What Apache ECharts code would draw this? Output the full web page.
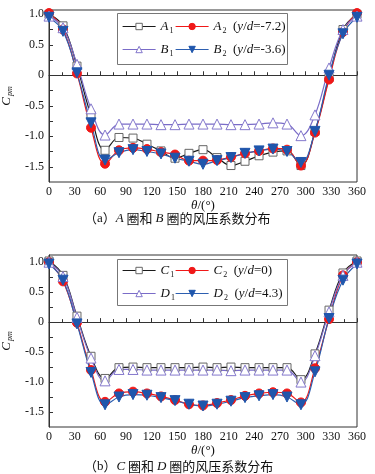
<!DOCTYPE html>
<html>
<head>
<meta charset="utf-8">
<script src="https://cdn.jsdelivr.net/npm/echarts@6/dist/echarts.min.js"></script>
<style>
  html, body { margin: 0; padding: 0; background: #fff; }
  #chart { width: 375px; height: 474px; }
</style>
</head>
<body>
<div id="chart"></div>
<script>
// polar angle of the measuring points (deg)
const theta = [0, 16.4, 32.7, 49.1, 65.5, 81.8, 98.2, 114.5, 130.9, 147.3, 163.6, 180,
  196.4, 212.7, 229.1, 245.5, 261.8, 278.2, 294.5, 310.9, 327.3, 343.6, 360]

// (a) rings A and B
const A1 = [1.0, 0.81, 0.15, -0.66, -1.23, -1.02, -1.03, -1.13, -1.24, -1.36, -1.28, -1.22,
  -1.35, -1.48, -1.41, -1.32, -1.26, -1.24, -1.48, -0.92, -0.04, 0.75, 1.0]
const A2 = [1.02, 0.75, 0.03, -0.86, -1.45, -1.23, -1.19, -1.21, -1.26, -1.30, -1.40, -1.40,
  -1.39, -1.34, -1.28, -1.24, -1.20, -1.22, -1.48, -0.94, -0.07, 0.71, 1.02]
const B1 = [0.97, 0.78, 0.18, -0.55, -0.98, -0.80, -0.80, -0.80, -0.81, -0.81, -0.80, -0.80,
  -0.80, -0.81, -0.81, -0.80, -0.78, -0.80, -0.99, -0.65, 0.12, 0.75, 0.97]
const B2 = [0.95, 0.72, 0.04, -0.78, -1.39, -1.27, -1.22, -1.25, -1.29, -1.36, -1.41, -1.46,
  -1.40, -1.35, -1.28, -1.24, -1.21, -1.25, -1.43, -0.92, 0.0, 0.68, 0.95]

// (b) rings C and D
const C1 = [1.02, 0.78, 0.10, -0.57, -0.94, -0.76, -0.75, -0.76, -0.76, -0.76, -0.76, -0.75,
  -0.76, -0.75, -0.76, -0.76, -0.76, -0.76, -0.96, -0.53, 0.20, 0.82, 1.02]
const C2 = [1.0, 0.68, -0.01, -0.80, -1.33, -1.19, -1.16, -1.19, -1.24, -1.30, -1.37, -1.39,
  -1.35, -1.30, -1.23, -1.19, -1.17, -1.19, -1.34, -0.77, 0.05, 0.78, 1.0]
const D1 = [1.0, 0.76, 0.08, -0.60, -0.98, -0.79, -0.79, -0.80, -0.80, -0.80, -0.80, -0.80,
  -0.80, -0.81, -0.80, -0.80, -0.80, -0.80, -1.0, -0.56, 0.17, 0.78, 1.0]
const D2 = [0.97, 0.70, -0.03, -0.84, -1.38, -1.25, -1.21, -1.22, -1.26, -1.31, -1.37, -1.40,
  -1.37, -1.32, -1.26, -1.23, -1.21, -1.25, -1.38, -0.83, 0.06, 0.70, 0.97]

const yLabels = [-1.5, -1.0, -0.5, 0, 0.5, 1.0]
const yTicks = [-1.5, -1.25, -1.0, -0.75, -0.5, -0.25, 0, 0.25, 0.5, 0.75, 1.0]

const serif = "'Liberation Serif', 'Noto Sans CJK SC', serif"

const legendText = {
  A1: '{i|A}{s|1}',
  A2: '{i|A}{s|2}{n|  (}{i|y}{n|/}{i|d}{n|=-7.2)}',
  B1: '{i|B}{s|1}',
  B2: '{i|B}{s|2}{n|  (}{i|y}{n|/}{i|d}{n|=-3.6)}',
  C1: '{i|C}{s|1}',
  C2: '{i|C}{s|2}{n|  (}{i|y}{n|/}{i|d}{n|=0)}',
  D1: '{i|D}{s|1}',
  D2: '{i|D}{s|2}{n|  (}{i|y}{n|/}{i|d}{n|=4.3)}'
}

const richText = {
  i: { fontFamily: serif, fontStyle: 'italic', fontWeight: 'normal', fontSize: 13, color: '#111' },
  n: { fontFamily: serif, fontWeight: 'normal', fontSize: 13, color: '#111' },
  s: { fontFamily: serif, fontWeight: 'normal', fontSize: 8, color: '#111', padding: [8, 0, 0, 1] },
  c: { fontFamily: "'Noto Sans CJK SC', serif", fontWeight: 'normal', fontSize: 13, color: '#111' }
}

// line / marker look of the four kinds of curve
const looks = {
  black: { line: '#1a1a1a', symbol: 'rect', size: 8, fill: '#fff', stroke: '#666', rotate: 0 },
  red: { line: '#f01818', symbol: 'circle', size: 9, fill: '#f01818', stroke: '#f01818', rotate: 0 },
  purple: { line: '#7a6cc8', symbol: 'triangle', size: 10, fill: '#fff', stroke: '#8478cc', rotate: 0 },
  blue: { line: '#2d5fb0', symbol: 'triangle', size: 10, fill: '#1f56ac', stroke: '#1f56ac', rotate: 180 }
}

function makeSeries (name, vals, look, idx) {
  const lk = looks[look]
  return {
    name: name,
    type: 'line',
    xAxisIndex: idx,
    yAxisIndex: idx,
    smooth: 0.4,
    data: theta.map((t, i) => [t, vals[i]]),
    symbol: lk.symbol,
    symbolSize: lk.size,
    symbolRotate: lk.rotate,
    showAllSymbol: true,
    lineStyle: { color: lk.line, width: 1.2 },
    itemStyle: { color: lk.fill, borderColor: lk.stroke, borderWidth: 1 },
    emphasis: { disabled: true },
    animation: false
  }
}

function makeLegend (name, left, top) {
  return {
    data: [name],
    left: left,
    top: top,
    z: 20,
    itemWidth: 33,
    itemHeight: 8,
    itemGap: 0,
    padding: 0,
    selectedMode: false,
    lineStyle: { width: 1.2 },
    itemStyle: { borderWidth: 1 },
    formatter: n => legendText[n],
    textStyle: { fontFamily: serif, fontSize: 13, color: '#111', rich: richText }
  }
}

function makeX (idx) {
  return {
    type: 'value',
    gridIndex: idx,
    min: 0,
    max: 360,
    interval: 30,
    name: '{i|θ}{n|/(°)}',
    nameLocation: 'middle',
    nameGap: 14,
    nameTextStyle: { rich: richText },
    axisLine: { lineStyle: { color: '#333' } },
    axisTick: { inside: true, length: 4, lineStyle: { color: '#333' } },
    minorTick: { show: true, splitNumber: 2, length: 3, lineStyle: { color: '#333' } },
    axisLabel: { fontFamily: serif, fontSize: 12, color: '#111', margin: 4 },
    splitLine: { show: false }
  }
}

function makeY (idx, max) {
  return {
    type: 'value',
    gridIndex: idx,
    min: -1.75,
    max: max,
    name: '{i|C}{p|pm}',
    nameLocation: 'middle',
    nameRotate: 90,
    nameGap: 27,
    nameTextStyle: {
      rich: {
        i: { fontFamily: serif, fontStyle: 'italic', fontSize: 13, color: '#111' },
        p: { fontFamily: serif, fontStyle: 'italic', fontSize: 8, color: '#111', padding: [8, 0, 0, 1] }
      }
    },
    axisLine: { lineStyle: { color: '#333' } },
    axisTick: { inside: true, length: 4, customValues: yTicks, lineStyle: { color: '#333' } },
    axisLabel: {
      fontFamily: serif,
      fontSize: 12,
      color: '#111',
      margin: 5,
      customValues: yLabels,
      formatter: v => (v === 0 ? '0' : v.toFixed(1))
    },
    splitLine: { show: false }
  }
}

const chart = echarts.init(document.getElementById('chart'))
chart.setOption({
  backgroundColor: '#fff',
  animation: false,
  grid: [
    { left: 49, top: 10, width: 308, height: 172, show: true, borderColor: '#333', borderWidth: 1, outerBoundsMode: 'none', containLabel: false },
    { left: 49, top: 255, width: 308, height: 172, show: true, borderColor: '#333', borderWidth: 1, outerBoundsMode: 'none', containLabel: false }
  ],
  xAxis: [makeX(0), makeX(1)],
  yAxis: [makeY(0, 1.07), makeY(1, 1.12)],
  title: [
    {
      text: '{c|（}{n|a}{c|）}{i|A}{c| 圈和 }{i|B}{c| 圈的风压系数分布}',
      left: 84,
      top: 212,
      padding: 0,
      textStyle: { fontWeight: 'normal', rich: richText }
    },
    {
      text: '{c|（}{n|b}{c|）}{i|C}{c| 圈和 }{i|D}{c| 圈的风压系数分布}',
      left: 84,
      top: 460,
      padding: 0,
      textStyle: { fontWeight: 'normal', rich: richText }
    }
  ],
  graphic: [
    { type: 'rect', shape: { x: 117.5, y: 13.5, width: 170, height: 51 }, style: { fill: '#fff', stroke: '#777', lineWidth: 1 }, z: 1 },
    { type: 'rect', shape: { x: 117.5, y: 259.5, width: 170, height: 46 }, style: { fill: '#fff', stroke: '#777', lineWidth: 1 }, z: 1 }
  ],
  legend: [
    makeLegend('A1', 122, 20),
    makeLegend('A2', 175, 20),
    makeLegend('B1', 122, 43),
    makeLegend('B2', 175, 43),
    makeLegend('C1', 122, 264),
    makeLegend('C2', 175, 264),
    makeLegend('D1', 122, 287),
    makeLegend('D2', 175, 287)
  ],
  series: [
    makeSeries('A1', A1, 'black', 0),
    makeSeries('A2', A2, 'red', 0),
    makeSeries('B1', B1, 'purple', 0),
    makeSeries('B2', B2, 'blue', 0),
    makeSeries('C1', C1, 'black', 1),
    makeSeries('C2', C2, 'red', 1),
    makeSeries('D1', D1, 'purple', 1),
    makeSeries('D2', D2, 'blue', 1)
  ]
})
</script>
</body>
</html>
